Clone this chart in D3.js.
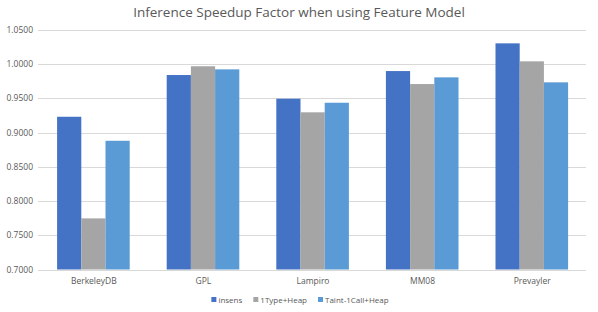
<!DOCTYPE html>
<meta charset='utf-8'>
<style>
  body { margin:0; background:#fff; }
  text { font-family:'Open Sans', 'Liberation Sans', sans-serif; fill:#595959; }
  .grid line { stroke:#d9d9d9; stroke-width:1px; }
</style>
<body>
  <div class='chart'></div>
  <script src='https://d3js.org/d3.v7.min.js'></script>
  <script>
    var categories = ['BerkeleyDB','GPL','Lampiro','MM08','Prevayler'];
    var seriesNames = ['insens','1Type+Heap','Taint-1Call+Heap'];
    var insens = [0.9232, 0.9842, 0.9496, 0.9900, 1.0305];
    var oneTypeHeap = [0.7747, 0.9970, 0.9297, 0.9710, 1.0042];
    var taintCallHeap = [0.8881, 0.9925, 0.9437, 0.9808, 0.9735];
    var yTicks = [0.70,0.75,0.80,0.85,0.90,0.95,1.00,1.05];
    var colors = ['#4472c4','#a5a5a5','#5b9bd5'];

    var width = 598;
    var height = 312;
    var margin = {top:30, right:12, bottom:42.5, left:38};

    var svg = d3.select('.chart').append('svg')
      .attr('width',width)
      .attr('height',height);

    var rows = categories.map(function(c,i) {
      return {cat:c, vals:[insens[i], oneTypeHeap[i], taintCallHeap[i]]};
    });

    var x = d3.scaleBand()
      .domain(categories)
      .range([margin.left, width-margin.right]);
    var barW = 24.2;
    var x1 = d3.scaleBand()
      .domain(seriesNames)
      .range([0, barW*3]);
    var y = d3.scaleLinear()
      .domain([0.7,1.05])
      .range([height-margin.bottom, margin.top]);

    // gridlines
    svg.append('g').attr('class','grid')
      .selectAll('line').data(yTicks).enter().append('line')
      .attr('x1',margin.left).attr('x2',width-margin.right)
      .attr('y1',function(d){ return Math.round(y(d))+0.5; })
      .attr('y2',function(d){ return Math.round(y(d))+0.5; });

    // y labels
    svg.append('g')
      .selectAll('text').data(yTicks).enter().append('text')
      .attr('x',33).attr('y',function(d){ return y(d)+3; })
      .attr('text-anchor','end')
      .style('font-size','8.5px')
      .text(function(d){ return d3.format('.4f')(d); });

    // bars
    var groups = svg.append('g').selectAll('g').data(rows).enter().append('g')
      .attr('transform',function(d){ return 'translate(' + (x(d.cat)+x.bandwidth()/2-barW*1.5+0.6) + ',0)'; });
    groups.selectAll('rect').data(function(d){ return d.vals; }).enter().append('rect')
      .attr('x',function(d,i){ return x1(seriesNames[i]); })
      .attr('width',x1.bandwidth())
      .attr('y',function(d){ return y(d); })
      .attr('height',function(d){ return y(0.7)-y(d); })
      .attr('fill',function(d,i){ return colors[i]; });

    // x axis line
    svg.append('line')
      .attr('x1',margin.left).attr('x2',width-margin.right)
      .attr('y1',Math.round(y(0.7))+0.5).attr('y2',Math.round(y(0.7))+0.5)
      .attr('stroke','#d9d9d9');

    // category labels
    svg.append('g')
      .selectAll('text').data(categories).enter().append('text')
      .attr('x',function(d){ return x(d)+x.bandwidth()/2+1; })
      .attr('y',284)
      .attr('text-anchor','middle')
      .style('font-size','8.5px')
      .text(function(d){ return d; });

    // title
    svg.append('text')
      .attr('x',width/2).attr('y',17)
      .attr('text-anchor','middle')
      .style('font-size','13.5px')
      .text('Inference Speedup Factor when using Feature Model');

    // legend: lay items out one after another, centred under the plot
    var legend = svg.append('g');
    var items = legend.selectAll('g').data(seriesNames).enter().append('g');
    items.append('rect')
      .attr('width',5).attr('height',5).attr('y',-0.5)
      .attr('fill',function(d,i){ return colors[i]; });
    items.append('text')
      .attr('x',7).attr('y',5)
      .style('font-size','8px')
      .text(function(d){ return d; });
    var cursor = 0;
    items.each(function() {
      d3.select(this).attr('transform','translate(' + cursor + ',0)');
      cursor += 7 + d3.select(this).select('text').node().getComputedTextLength() + 11;
    });
    cursor -= 11;
    legend.attr('transform','translate(' + (width/2 + 1 - cursor/2) + ',297.5)');
  </script>
</body>
